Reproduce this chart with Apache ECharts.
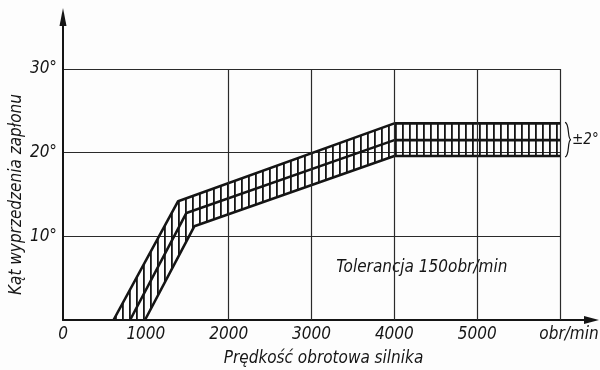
<!DOCTYPE html>
<html><head><meta charset="utf-8">
<script src="https://cdn.jsdelivr.net/npm/echarts@6/dist/echarts.min.js"></script>
<style>html,body{margin:0;padding:0;background:#fff}#c{width:600px;height:370px}</style>
</head><body><div id="c"></div>
<script>
// ---- data ----
const xTicks = [0, 1000, 2000, 3000, 4000, 5000, 6000];
const xTickLabels = ['0', '1000', '2000', '3000', '4000', '5000', 'obr/min'];
const yTickValues = [10, 20, 30];
const xGridLines = [2000, 3000, 4000, 5000, 6000];
const upperX = [610, 1390, 4000, 6000];
const upperY = [0, 14.2, 23.5, 23.5];
const midX = [810, 1490, 4000, 6000];
const midY = [0, 12.8, 21.5, 21.5];
const lowX = [990, 1585, 4000, 6000];
const lowY = [0, 11.2, 19.6, 19.6];
const xName = 'Prędkość obrotowa silnika';
const yName = 'Kąt wyprzedzenia zapłonu';
const toleranceText = 'Tolerancja 150obr/min';
const bandText = '±2°';

const FONT = '"Liberation Sans Narrow", "DejaVu Sans Condensed", sans-serif';
const INK = '#151515';

function pairs(xs, ys) { return xs.map((x, i) => [x, ys[i]]); }

// hatch pattern
const pat = document.createElement('canvas');
pat.width = 7; pat.height = 7;
const pc = pat.getContext('2d');
pc.fillStyle = INK;
pc.fillRect(3, 0, 1.8, 7);

const chart = echarts.init(document.getElementById('c'), null, {renderer: 'canvas'});

const option = {
  backgroundColor: '#fdfdfd',
  animation: false,
  grid: {left: 63, right: 40, top: 69, bottom: 50, containLabel: false, outerBoundsMode: 'none'},
  xAxis: {
    type: 'value', min: 0, max: 6000, interval: 1000,
    name: xName, nameLocation: 'middle', nameGap: 30,
    nameTextStyle: {fontFamily: FONT, fontStyle: 'italic', fontSize: 17, color: INK, padding: [0, 0, 0, 24]},
    axisLine: {show: true, lineStyle: {color: INK, width: 2}},
    axisTick: {show: false},
    splitLine: {show: false},
    axisLabel: {
      margin: 6,
      fontFamily: FONT, fontStyle: 'italic', fontSize: 17, color: INK,
      formatter: function (v) {
        const i = xTicks.indexOf(v);
        const t = i >= 0 ? xTickLabels[i] : '';
        return i === xTicks.length - 1 ? '{u|' + t + '}' : t;
      },
      rich: {u: {fontFamily: FONT, fontStyle: 'italic', fontSize: 17, color: INK, padding: [0, 0, 0, 18]}}
    }
  },
  yAxis: {
    type: 'value', min: 0, max: 30, interval: 10,
    name: yName, nameLocation: 'middle', nameGap: 38, nameRotate: 90, nameMoveOverlap: false,
    nameTextStyle: {fontFamily: FONT, fontStyle: 'italic', fontSize: 17, color: INK},
    axisLine: {show: true, lineStyle: {color: INK, width: 2}},
    axisTick: {show: false},
    splitLine: {show: true, lineStyle: {color: '#2a2a2a', width: 1.2}},
    axisLabel: {
      margin: 6,
      fontFamily: FONT, fontStyle: 'italic', fontSize: 17, color: INK,
      formatter: function (v) { return yTickValues.indexOf(v) >= 0 ? v + '°' : ''; }
    }
  },
  series: [
    {
      type: 'custom',
      coordinateSystem: 'cartesian2d',
      data: [[0, 0]],
      clip: true,
      silent: true,
      z: 2,
      renderItem: function (params, api) {
        const pts = [];
        for (let i = 0; i < upperX.length; i++) pts.push(api.coord([upperX[i], upperY[i]]));
        for (let i = lowX.length - 1; i >= 0; i--) pts.push(api.coord([lowX[i], lowY[i]]));
        return {
          type: 'polygon',
          shape: {points: pts},
          style: {fill: {image: pat, repeat: 'repeat'}, stroke: null}
        };
      }
    },
    {
      type: 'line', data: pairs(upperX, upperY), symbol: 'none', z: 3,
      lineStyle: {color: INK, width: 2.6}, silent: true,
      markLine: {
        silent: true, symbol: ['none', 'none'], label: {show: false},
        lineStyle: {color: '#2a2a2a', width: 1.2, type: 'solid'},
        data: xGridLines.map(v => ({xAxis: v}))
      }
    },
    {type: 'line', data: pairs(midX, midY), symbol: 'none', z: 3, lineStyle: {color: INK, width: 2.6}, silent: true},
    {type: 'line', data: pairs(lowX, lowY), symbol: 'none', z: 3, lineStyle: {color: INK, width: 2.6}, silent: true}
  ]
};
chart.setOption(option);

// decorations: axis arrows, brace, annotations
const xe = chart.convertToPixel({gridIndex: 0}, [6000, 0]);
const ye = chart.convertToPixel({gridIndex: 0}, [0, 30]);
const bt = chart.convertToPixel({gridIndex: 0}, [6000, upperY[3]]);
const bb = chart.convertToPixel({gridIndex: 0}, [6000, lowY[3]]);
const bm = (bt[1] + bb[1]) / 2;
const tp = chart.convertToPixel({gridIndex: 0}, [3300, 6.3]);
const bx = bt[0] + 5;

chart.setOption({
  graphic: [
    {type: 'line', shape: {x1: xe[0], y1: xe[1], x2: 588, y2: xe[1]}, style: {stroke: INK, lineWidth: 2}},
    {type: 'polygon', shape: {points: [[599, xe[1]], [584, xe[1] - 4], [584, xe[1] + 4]]}, style: {fill: INK}},
    {type: 'line', shape: {x1: ye[0], y1: ye[1], x2: ye[0], y2: 20}, style: {stroke: INK, lineWidth: 2}},
    {type: 'polygon', shape: {points: [[ye[0], 8], [ye[0] - 3.5, 26], [ye[0] + 3.5, 26]]}, style: {fill: INK}},
    {type: 'bezierCurve', shape: {x1: bx, y1: bt[1] - 1, cpx1: bx + 5, cpy1: bt[1], cpx2: bx + 2, cpy2: bm, x2: bx + 6, y2: bm}, style: {stroke: INK, lineWidth: 1.2, fill: null}},
    {type: 'bezierCurve', shape: {x1: bx, y1: bb[1] + 1, cpx1: bx + 5, cpy1: bb[1], cpx2: bx + 2, cpy2: bm, x2: bx + 6, y2: bm}, style: {stroke: INK, lineWidth: 1.2, fill: null}},
    {type: 'text', x: bx + 7, y: bm, style: {text: bandText, font: 'italic 15px ' + FONT, fill: INK, textVerticalAlign: 'middle', verticalAlign: 'middle'}},
    {type: 'text', x: tp[0], y: tp[1], style: {text: toleranceText, font: 'italic 17px ' + FONT, fill: INK, textVerticalAlign: 'middle', verticalAlign: 'middle'}}
  ]
});
</script>
</body></html>
